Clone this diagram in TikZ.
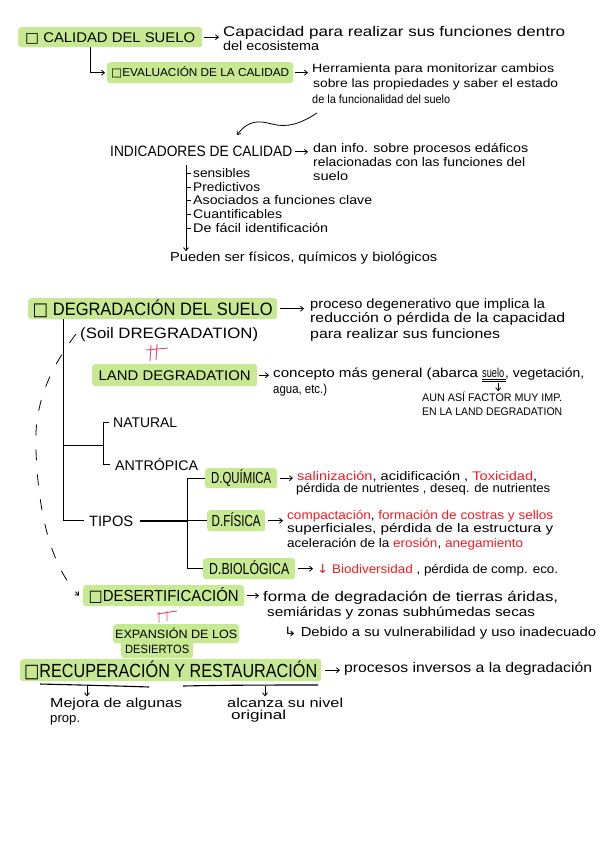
\documentclass[tikz,border=0pt]{standalone}
\usepackage{fontspec}
\setmainfont{Liberation Sans}
\newfontfamily\sym{DejaVu Sans}
\usepackage{graphicx}
\usetikzlibrary{arrows.meta,calc}
\definecolor{boxgreen}{RGB}{198,233,145}
\definecolor{txtred}{RGB}{238,28,36}
\definecolor{hashred}{RGB}{232,72,104}
\newcommand{\fsz}[1]{\fontsize{#1}{#1}\selectfont}
\newcommand{\tw}[2]{\resizebox{#1pt}{\height}{#2}}
\newcommand{\rd}[1]{\textcolor{txtred}{#1}}
\begin{document}
\begin{tikzpicture}[x=1pt,y=-1pt,
  hw/.style={anchor=base west, inner sep=0pt},
  gbox/.style={anchor=north west, fill=boxgreen, rounded corners=3pt, inner sep=0pt, text depth=0pt},
  arr/.style={-{Straight Barb[length=3pt,width=5pt]}, line width=0.8pt},
  tree/.style={line width=1pt},
  hash/.style={draw=hashred, line width=0.9pt}]
\useasboundingbox (0,0) rectangle (600,848);
\fill[white] (0,0) rectangle (600,848);

% ---------------- Calidad del suelo
\node[gbox, minimum width=184pt, minimum height=20pt, text height=10pt, font=\fsz{14}] (b1) at (18,27) {\tw{170}{{\sym □} CALIDAD DEL SUELO}};
\node[hw, font=\fsz{14}] (c1) at (223,37) {\tw{342}{Capacidad para realizar sus funciones dentro}};
\node[hw, font=\fsz{13}] (c2) at (223,51) {\tw{96}{del ecosistema}};
\draw[arr] ([xshift=2pt]b1.east) -- ([xshift=-4pt]b1.east -| c1.west);

\node[gbox, minimum width=186pt, minimum height=21pt, text height=8pt, font=\fsz{11.5}] (b2) at (107,62) {\tw{178}{{\sym □}EVALUACIÓN DE LA CALIDAD}};
\draw[arr] ([xshift=72pt]b1.south west) |- ([xshift=-2pt]b2.west);
\node[hw, font=\fsz{12}] (h1) at (312,73) {\tw{242}{Herramienta para monitorizar cambios}};
\node[hw, font=\fsz{12}] (h2) at (313,88) {\tw{245}{sobre las propiedades y saber el estado}};
\node[hw, font=\fsz{12}] (h3) at (312,103) {\tw{138}{de la funcionalidad del suelo}};
\draw[arr] ([xshift=2pt]b2.east) -- ([xshift=-4pt]b2.east -| h1.west);

% ---------------- Indicadores
\coordinate (wv) at (317,113);
\coordinate (wend) at (237,135);
\draw[arr] (wv) .. controls (300,124) and (287,128) .. (272,124) .. controls (260,121) and (249,119) .. (wend);
\node[hw, font=\fsz{15}] (ind) at (110,157) {\tw{182}{INDICADORES DE CALIDAD}};
\node[hw, font=\fsz{12.5}] (di1) at (313,152) {\tw{215}{dan info. sobre procesos edáficos}};
\node[hw, font=\fsz{12.5}] (di2) at (313,166) {\tw{212}{relacionadas con las funciones del}};
\node[hw, font=\fsz{12.5}] (di3) at (313,180) {\tw{35}{suelo}};
\draw[arr] ([xshift=3pt]ind.east) -- ([xshift=-5pt]ind.east -| di1.west);

\node[hw, font=\fsz{12.5}] (s1) at (193,177) {\tw{57}{sensibles}};
\node[hw, font=\fsz{12.5}] (s2) at (193,191) {\tw{67}{Predictivos}};
\node[hw, font=\fsz{12.5}] (s3) at (193,204) {\tw{179}{Asociados a funciones clave}};
\node[hw, font=\fsz{12.5}] (s4) at (193,218) {\tw{89}{Cuantificables}};
\node[hw, font=\fsz{12.5}] (s5) at (193,232) {\tw{135}{De fácil identificación}};
\node[hw, font=\fsz{13}] (pu) at (170,261) {\tw{267}{Pueden ser físicos, químicos y biológicos}};
\coordinate (v0) at (186,165);
\draw[arr] (v0) -- (v0 |- pu.north);
\foreach \s in {s1,s2,s3,s4,s5}
  \draw[line width=0.8pt] ([yshift=4pt]\s.base west -| v0) -- ([xshift=-2pt,yshift=4pt]\s.base west);

% ---------------- Degradacion del suelo
\node[gbox, minimum width=249pt, minimum height=21pt, text height=13pt, font=\fsz{18}] (b3) at (28,298) {\tw{240}{{\sym □} DEGRADACIÓN DEL SUELO}};
\node[hw, font=\fsz{13.5}] (p1) at (310,308) {\tw{235}{proceso degenerativo que implica la}};
\node[hw, font=\fsz{13.5}] (p2) at (310,322) {\tw{255}{reducción o pérdida de la capacidad}};
\node[hw, font=\fsz{13.5}] (p3) at (310,338) {\tw{190}{para realizar sus funciones}};
\draw[arr] ([xshift=3pt]b3.east) -- ([xshift=-6pt]b3.east -| p1.west);
\node[hw, font=\fsz{15}] (soil) at (80,338) {\tw{178}{(Soil DREGRADATION)}};

\draw[hash] (151,345) -- (150,361) (157,344) -- (156,360) (146,350) -- (168,348);

\node[gbox, minimum width=165pt, minimum height=22pt, text height=10pt, font=\fsz{14}] (b4) at (92,364) {\tw{152}{LAND DEGRADATION}};
\node[hw, font=\fsz{13}] (ld1a) at (273,377) {\tw{205}{concepto más general (abarca}};
\node[hw, font=\fsz{13}] (ld1b) at (482,377) {\tw{22}{suelo}};
\node[hw, font=\fsz{13}] (ld1c) at (505,377) {\tw{79}{, vegetación,}};
\node[hw, font=\fsz{13}] (ld2) at (273,393) {\tw{54}{agua, etc.)}};
\draw[arr] ([xshift=2pt]b4.east) -- ([xshift=-4pt]b4.east -| ld1a.west);
\draw[line width=0.8pt] ([yshift=-2pt]ld1b.base west) -- ([yshift=-2pt,xshift=2pt]ld1b.base east)
  ([yshift=-4.5pt]ld1b.base west) -- ([yshift=-4.5pt,xshift=2pt]ld1b.base east);
\node[hw, font=\fsz{11}] (aun1) at (422,401) {\tw{140}{AUN ASÍ FACTOR MUY IMP.}};
\node[hw, font=\fsz{11}] (aun2) at (422,415) {\tw{140}{EN LA LAND DEGRADATION}};
\draw[arr] ([xshift=5pt,yshift=-6pt]ld1b.base) -- ([xshift=5pt]ld1b.base |- aun1.north);

% tree
\node[hw, font=\fsz{14}] (nat) at (113,427) {\tw{64}{NATURAL}};
\node[hw, font=\fsz{14}] (ant) at (115,470) {\tw{83}{ANTRÓPICA}};
\node[hw, font=\fsz{15}] (tip) at (89,526) {\tw{44}{TIPOS}};
\coordinate (t0) at ([xshift=35pt]b3.south west);
\coordinate (nb) at (103,445);
\draw[tree] (t0) -- (t0 |- tip.west) -- ([xshift=-5pt]tip.west);
\draw[tree] (nb -| t0) -- (nb);
\draw[tree] ([xshift=-4pt]nat.west) -- (nat.west -| nb) -- (ant.west -| nb) -- ([xshift=-5pt]ant.west);

\node[gbox, minimum width=72pt, minimum height=20pt, text height=11pt, font=\fsz{16}] (b5) at (205,468) {\tw{60}{D.QUÍMICA}};
\node[gbox, minimum width=58pt, minimum height=21pt, text height=11pt, font=\fsz{16}] (b6) at (207,510) {\tw{49}{D.FÍSICA}};
\node[gbox, minimum width=92pt, minimum height=21pt, text height=11pt, font=\fsz{16}] (b7) at (203,558) {\tw{80}{D.BIOLÓGICA}};
\coordinate (tb) at (187,520);
\draw[line width=1.5pt] ([xshift=7pt]tip.east) -- (tip.east -| tb);
\draw[tree] (b5.west -| tb) -- (b7.west -| tb);
\draw[tree] (b5.west -| tb) -- (b5.west);
\draw[tree] (b6.west -| tb) -- (b6.west);
\draw[tree] (b7.west -| tb) -- (b7.west);

\node[hw, font=\fsz{12.5}] (q1) at (297,480) {\tw{240}{\rd{salinización}, acidificación , \rd{Toxicidad},}};
\node[hw, font=\fsz{12.5}] (q2) at (296,492) {\tw{254}{pérdida de nutrientes , deseq. de nutrientes}};
\draw[arr] ([xshift=3pt]b5.east) -- ([xshift=-4pt]b5.east -| q1.west);
\node[hw, font=\fsz{12.5}] (f1) at (287,519) {\tw{266}{\rd{compactación}, \rd{formación de costras y sellos}}};
\node[hw, font=\fsz{12.5}] (f2) at (287,532) {\tw{266}{superficiales, pérdida de la estructura y}};
\node[hw, font=\fsz{12.5}] (f3) at (287,547) {\tw{236}{aceleración de la \rd{erosión}, \rd{anegamiento}}};
\draw[arr] ([xshift=3pt]b6.east) -- ([xshift=-4pt]b6.east -| f1.west);
\node[hw, font=\fsz{12.5}] (bio) at (317,573) {\tw{241}{\rd{{\sym ↓} Biodiversidad} , pérdida de comp. eco.}};
\draw[arr] ([xshift=3pt]b7.east) -- ([xshift=-4pt]b7.east -| bio.west);

% ---------------- Desertificacion
\node[gbox, minimum width=161pt, minimum height=21pt, text height=12pt, font=\fsz{16}] (b8) at (83,585) {\tw{150}{{\sym □}DESERTIFICACIÓN}};
\coordinate (ds) at (76,334);
\draw[arr, dash pattern=on 11pt off 14pt] (ds) .. controls (45,375) and (34,410) .. (36,450) .. controls (38,510) and (50,565) .. ([xshift=-4pt]b8.west);
\node[hw, font=\fsz{14}] (fo1) at (263,601) {\tw{295}{forma de degradación de tierras áridas,}};
\node[hw, font=\fsz{13}] (fo2) at (267,616) {\tw{268}{semiáridas y zonas subhúmedas secas}};
\node[hw, font=\fsz{13}] (deb) at (284,636) {\tw{312}{{\sym ↳} Debido a su vulnerabilidad y uso inadecuado}};
\draw[arr] ([xshift=3pt]b8.east) -- ([xshift=-4pt]b8.east -| fo1.west);

\draw[hash] (159,612) -- (159,623) (167,611) -- (167,621) (157,614) -- (177,611);

\node[gbox, minimum width=126pt, minimum height=19pt, text height=9pt, font=\fsz{12}] (e1) at (113,624) {\tw{122}{EXPANSIÓN DE LOS}};
\node[gbox, minimum width=72pt, minimum height=19pt, text height=9pt, font=\fsz{12}] (e2) at (121,639) {\tw{64}{DESIERTOS}};

% ---------------- Recuperacion
\node[gbox, minimum width=301pt, minimum height=22pt, text height=14pt, font=\fsz{19}] (b10) at (20,659) {\tw{293}{{\sym □}RECUPERACIÓN Y RESTAURACIÓN}};
\node[hw, font=\fsz{14}] (rp) at (344,672) {\tw{248}{procesos inversos a la degradación}};
\draw[arr] ([xshift=4pt]b10.east) -- ([xshift=-4pt]b10.east -| rp.west);
\coordinate (ua) at (87,686);
\coordinate (ub) at (265,686);
\draw[line width=1.1pt] (40,684) .. controls (80,685) and (120,686) .. (149,687);
\draw[line width=1.1pt] (183,686) .. controls (230,685) and (280,685) .. (318,685);
\node[hw, font=\fsz{13}] (m1) at (50,707) {\tw{132}{Mejora de algunas}};
\node[hw, font=\fsz{13}] (m2) at (50,722) {\tw{30}{prop.}};
\node[hw, font=\fsz{13}] (o1) at (227,707) {\tw{116}{alcanza su nivel}};
\node[hw, font=\fsz{13}] (o2) at (231,719) {\tw{55}{original}};
\draw[arr] (ua) -- ([yshift=1pt]ua |- m1.north);
\draw[arr] (ub) -- ([yshift=1pt]ub |- o1.north);
\end{tikzpicture}
\end{document}
